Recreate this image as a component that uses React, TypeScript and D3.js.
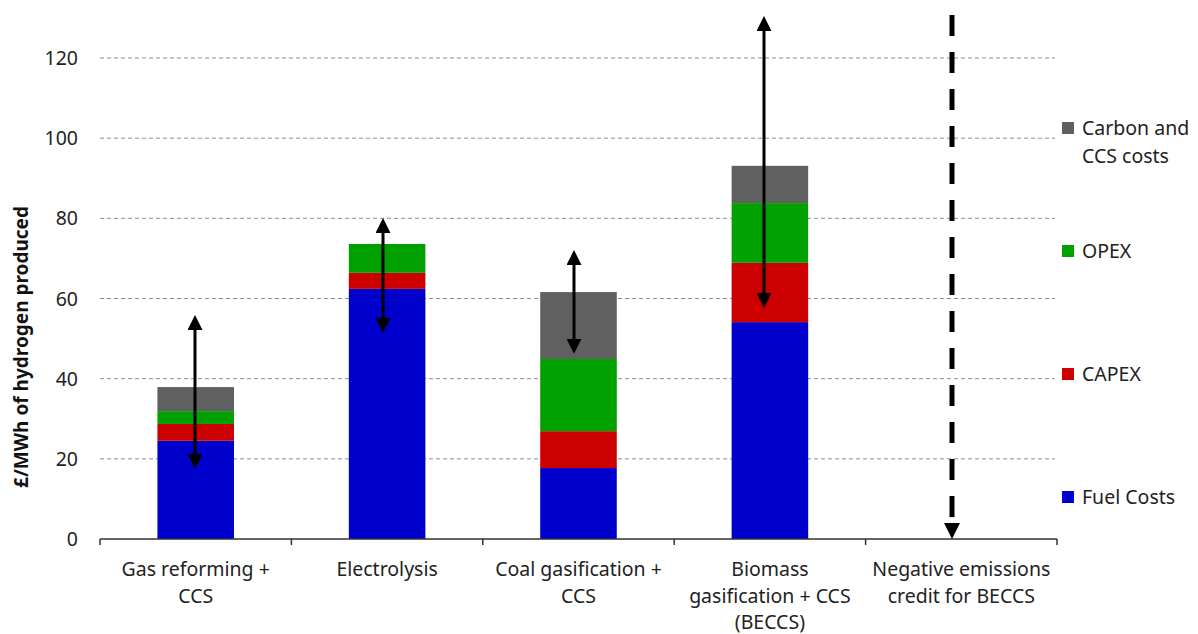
import { useEffect, useRef } from "react";
import * as d3 from "d3";

const categories = [
  ["Gas reforming +", "CCS"],
  ["Electrolysis"],
  ["Coal gasification +", "CCS"],
  ["Biomass", "gasification + CCS", "(BECCS)"],
  ["Negative emissions", "credit for BECCS"],
];
const fuelCosts = [24.5, 62.4, 17.7, 54.1, 0];
const capex = [4.2, 4.0, 9.2, 14.8, 0];
const opex = [3.2, 7.2, 18.0, 14.9, 0];
const carbonCosts = [6.0, 0, 16.7, 9.3, 0];
// uncertainty ranges [low, high]
const rangeLow = [18.0, 51.9, 46.7, 58.1];
const rangeHigh = [55.4, 79.6, 71.6, 130.0];
const negativeCredit = { from: 130.7, to: 0 };
const yTicks = [0, 20, 40, 60, 80, 100, 120];

const seriesNames = ["Fuel Costs", "CAPEX", "OPEX", "Carbon and CCS costs"];
const seriesColors = ["#0000cc", "#cc0000", "#00a000", "#606060"];

export default function App() {
  const ref = useRef<SVGSVGElement>(null);

  useEffect(() => {
    if (!ref.current) return;
    const width = 1198;
    const height = 634;
    const font = "'Noto Sans', 'Open Sans', sans-serif";

    d3.select(ref.current).selectAll("*").remove();
    const svg = d3.select(ref.current).attr("width", width).attr("height", height);

    const x = d3
      .scaleBand<number>()
      .domain(d3.range(categories.length))
      .range([100, 1057])
      .paddingInner(0)
      .paddingOuter(0);
    const barW = x.bandwidth() * 0.4;

    const y = d3.scaleLinear().domain([0, 120]).range([539, 58]);

    // gridlines
    svg
      .append("g")
      .selectAll("line")
      .data(yTicks.filter((t) => t > 0))
      .join("line")
      .attr("x1", 100)
      .attr("x2", 1055)
      .attr("y1", (d) => y(d))
      .attr("y2", (d) => y(d))
      .attr("stroke", "#8c8c8c")
      .attr("stroke-width", 1)
      .attr("stroke-dasharray", "4,3");

    // y tick labels
    svg
      .append("g")
      .selectAll("text")
      .data(yTicks)
      .join("text")
      .attr("x", 78)
      .attr("y", (d) => y(d) + 7)
      .attr("text-anchor", "end")
      .attr("font-family", font)
      .attr("font-size", 19.5)
      .attr("fill", "#222")
      .text((d) => d);

    // stacked bars
    const rows = categories.map((_, i) => ({
      i,
      s0: fuelCosts[i],
      s1: capex[i],
      s2: opex[i],
      s3: carbonCosts[i],
    }));
    const stack = d3.stack<any>().keys(["s0", "s1", "s2", "s3"]);
    const layers = stack(rows);

    svg
      .append("g")
      .selectAll("g")
      .data(layers)
      .join("g")
      .attr("fill", (_, k) => seriesColors[k])
      .selectAll("rect")
      .data((d) => d.filter((p) => p[1] - p[0] > 0))
      .join("rect")
      .attr("x", (d) => (x(d.data.i) ?? 0) + (x.bandwidth() - barW) / 2)
      .attr("width", barW)
      .attr("y", (d) => y(d[1]))
      .attr("height", (d) => y(d[0]) - y(d[1]));

    // x axis
    const axisG = svg.append("g");
    axisG
      .append("line")
      .attr("x1", 100)
      .attr("x2", 1057)
      .attr("y1", y(0))
      .attr("y2", y(0))
      .attr("stroke", "#333")
      .attr("stroke-width", 1.5);
    const bounds = d3.range(categories.length + 1).map((i) =>
      i < categories.length ? (x(i) ?? 0) : (x(categories.length - 1) ?? 0) + x.bandwidth()
    );
    axisG
      .selectAll("line.tick")
      .data(bounds)
      .join("line")
      .attr("class", "tick")
      .attr("x1", (d) => d)
      .attr("x2", (d) => d)
      .attr("y1", y(0))
      .attr("y2", y(0) + 6)
      .attr("stroke", "#333")
      .attr("stroke-width", 1.5);

    // x labels
    categories.forEach((lines, i) => {
      const t = svg
        .append("text")
        .attr("text-anchor", "middle")
        .attr("font-family", font)
        .attr("font-size", 19.5)
        .attr("fill", "#222");
      lines.forEach((ln, j) => {
        t.append("tspan")
          .attr("x", (x(i) ?? 0) + x.bandwidth() / 2)
          .attr("y", 576 + j * 26.5)
          .text(ln);
      });
    });

    // range arrows
    const defs = svg.append("defs");
    defs
      .append("marker")
      .attr("id", "arrow")
      .attr("viewBox", "0 0 10 10")
      .attr("refX", 2)
      .attr("refY", 5)
      .attr("markerWidth", 5)
      .attr("markerHeight", 5)
      .attr("markerUnits", "strokeWidth")
      .attr("orient", "auto-start-reverse")
      .append("path")
      .attr("d", "M0,0 L10,5 L0,10 Z")
      .attr("fill", "#000");

    const arrowX = [195, 383, 574, 764];
    rangeLow.forEach((lo, i) => {
      svg
        .append("line")
        .attr("x1", arrowX[i])
        .attr("x2", arrowX[i])
        .attr("y1", y(rangeHigh[i]) + 10)
        .attr("y2", y(lo) - 10)
        .attr("stroke", "#000")
        .attr("stroke-width", 3)
        .attr("marker-start", "url(#arrow)")
        .attr("marker-end", "url(#arrow)");
    });

    // negative emissions credit dashed arrow
    const nx = 952;
    svg
      .append("line")
      .attr("x1", nx)
      .attr("x2", nx)
      .attr("y1", y(negativeCredit.from))
      .attr("y2", y(negativeCredit.to) - 14)
      .attr("stroke", "#000")
      .attr("stroke-width", 5)
      .attr("stroke-dasharray", "21,16");
    svg
      .append("path")
      .attr(
        "d",
        `M${nx - 8},${y(negativeCredit.to) - 16} L${nx + 8},${y(negativeCredit.to) - 16} L${nx},${y(negativeCredit.to)} Z`
      )
      .attr("fill", "#000");

    // y axis title
    svg
      .append("text")
      .attr("transform", `translate(28,347) rotate(-90)`)
      .attr("text-anchor", "middle")
      .attr("font-family", font)
      .attr("font-size", 19)
      .attr("font-weight", "bold")
      .attr("fill", "#111")
      .text("£/MWh of hydrogen produced");

    // legend (top to bottom: reversed stack order)
    const legendY = [128, 251, 374, 497];
    const legendItems = [3, 2, 1, 0];
    legendItems.forEach((k, j) => {
      svg
        .append("rect")
        .attr("x", 1062)
        .attr("y", legendY[j] - 6)
        .attr("width", 12)
        .attr("height", 12)
        .attr("fill", seriesColors[k]);
      const t = svg
        .append("text")
        .attr("font-family", font)
        .attr("font-size", 19.5)
        .attr("fill", "#222");
      const name = seriesNames[k];
      const lines = name === "Carbon and CCS costs" ? ["Carbon and", "CCS costs"] : [name];
      lines.forEach((ln, m) => {
        t.append("tspan")
          .attr("x", 1082)
          .attr("y", legendY[j] + 7 + m * 28)
          .text(ln);
      });
    });
  }, []);

  return <svg ref={ref} style={{ position: "absolute", left: 0, top: 0 }} />;
}
